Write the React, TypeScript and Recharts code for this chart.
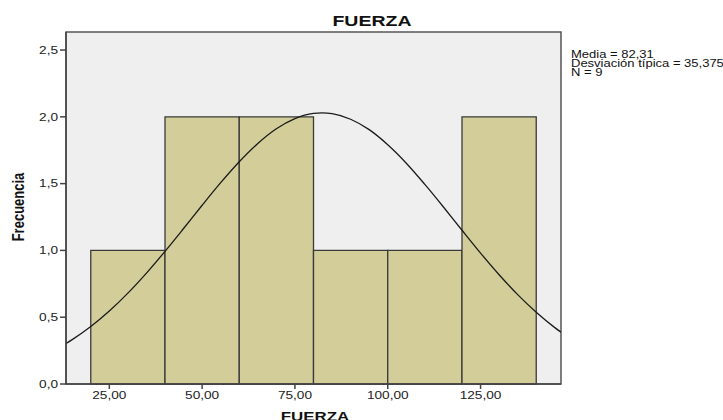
import React from "react";
import {
  ComposedChart,
  Line,
  ReferenceArea,
  XAxis,
  YAxis,
} from "recharts";

// histogram bins of FUERZA
const binStarts = [20, 40, 60, 80, 100, 120];
const binEnds = [40, 60, 80, 100, 120, 140];
const counts = [1, 2, 2, 1, 1, 2];

// normal curve (media 82,31, desv. 35,375)
const curveX = [
  13.33, 15, 20, 25, 30, 35, 40, 45, 50, 55, 60, 65, 70, 75, 80, 82.31, 85,
  90, 95, 100, 105, 110, 115, 120, 125, 130, 135, 140, 145, 146.67,
];
const curveY = [
  0.303, 0.332, 0.43, 0.546, 0.68, 0.83, 0.993, 1.164, 1.338, 1.507, 1.664,
  1.801, 1.911, 1.987, 2.026, 2.03, 2.024, 1.982, 1.904, 1.791, 1.653, 1.494,
  1.325, 1.151, 0.98, 0.818, 0.669, 0.537, 0.422, 0.388,
];

const xTicks = [25, 50, 75, 100, 125];
const yTicks = [0, 0.5, 1, 1.5, 2, 2.5];
const statLines = ["Media = 82,31", "Desviación típica = 35,375", "N = 9"];

const curveData = curveX.map((x, i) => ({ x, y: curveY[i] }));

const FONT = "'Liberation Sans', Arial, sans-serif";
const STRETCH = 1.3;

const XTick = (props: any) => {
  const { x, y, payload } = props;
  return (
    <text
      transform={`translate(${x},${y}) scale(${STRETCH},1)`}
      textAnchor="middle"
      dy="0.72em"
      fontSize={10.5}
      fontFamily={FONT}
      fill="#222"
    >
      {payload.value.toFixed(2).replace(".", ",")}
    </text>
  );
};

const YTick = (props: any) => {
  const { x, y, payload } = props;
  return (
    <text
      transform={`translate(${x},${y}) scale(${STRETCH},1)`}
      textAnchor="end"
      dy="0.36em"
      fontSize={10.5}
      fontFamily={FONT}
      fill="#222"
    >
      {payload.value.toFixed(1).replace(".", ",")}
    </text>
  );
};

const App = () => {
  return (
    <div
      style={{
        position: "absolute",
        left: 0,
        top: 0,
        width: 723,
        height: 420,
        background: "#fff",
        overflow: "hidden",
        fontFamily: FONT,
      }}
    >
      <ComposedChart
        width={723}
        height={420}
        data={curveData}
        margin={{ top: 32, right: 162, bottom: 0, left: 0 }}
      >
        <XAxis
          dataKey="x"
          type="number"
          domain={[13.33, 146.67]}
          allowDataOverflow
          ticks={xTicks}
          tick={<XTick />}
          tickSize={5}
          tickMargin={2}
          height={36}
          axisLine={{ stroke: "#444", strokeWidth: 1.5 }}
          tickLine={{ stroke: "#444", strokeWidth: 1.5 }}
        />
        <YAxis
          type="number"
          domain={[0, 2.635]}
          allowDataOverflow
          ticks={yTicks}
          tick={<YTick />}
          tickSize={6}
          tickMargin={2}
          width={66}
          axisLine={{ stroke: "#444", strokeWidth: 1.5 }}
          tickLine={{ stroke: "#444", strokeWidth: 1.5 }}
        />
        <ReferenceArea
          x1={13.33}
          x2={146.67}
          y1={0}
          y2={2.635}
          fill="#efefef"
          fillOpacity={1}
          stroke="#555"
          strokeWidth={1.5}
          ifOverflow="visible"
        />
        {counts.map((c, i) => (
          <ReferenceArea
            key={i}
            x1={binStarts[i]}
            x2={binEnds[i]}
            y1={0}
            y2={c}
            fill="#d3ce99"
            fillOpacity={1}
            stroke="#3a3a3a"
            strokeWidth={1.3}
            ifOverflow="visible"
          />
        ))}
        <Line
          dataKey="y"
          type="monotone"
          stroke="#1a1a1a"
          strokeWidth={1.3}
          dot={false}
          activeDot={false}
          isAnimationActive={false}
        />
      </ComposedChart>

      {/* title */}
      <div
        style={{
          position: "absolute",
          left: 372,
          top: 12,
          transform: `translateX(-50%) scaleX(${STRETCH})`,
          fontSize: 15,
          fontWeight: "bold",
          lineHeight: "17px",
          color: "#111",
          whiteSpace: "nowrap",
        }}
      >
        FUERZA
      </div>

      {/* x axis title (cut by the bottom edge, as in the original) */}
      <div
        style={{
          position: "absolute",
          left: 315,
          top: 408.5,
          transform: `translateX(-50%) scaleX(${STRETCH})`,
          fontSize: 13,
          fontWeight: "bold",
          lineHeight: "15px",
          color: "#111",
          whiteSpace: "nowrap",
        }}
      >
        FUERZA
      </div>

      {/* y axis title */}
      <div
        style={{
          position: "absolute",
          left: 18.5,
          top: 207,
          transform: `translate(-50%, -50%) scaleX(1.2) rotate(-90deg)`,
          fontSize: 13,
          fontWeight: "bold",
          lineHeight: "14px",
          color: "#111",
          whiteSpace: "nowrap",
        }}
      >
        Frecuencia
      </div>

      {/* stats */}
      <div
        style={{
          position: "absolute",
          left: 571,
          top: 50,
          transform: `scaleX(${STRETCH})`,
          transformOrigin: "left top",
          fontSize: 10,
          lineHeight: "9px",
          color: "#111",
          whiteSpace: "nowrap",
        }}
      >
        {statLines.map((s) => (
          <div key={s}>{s}</div>
        ))}
      </div>
    </div>
  );
};

export default App;
